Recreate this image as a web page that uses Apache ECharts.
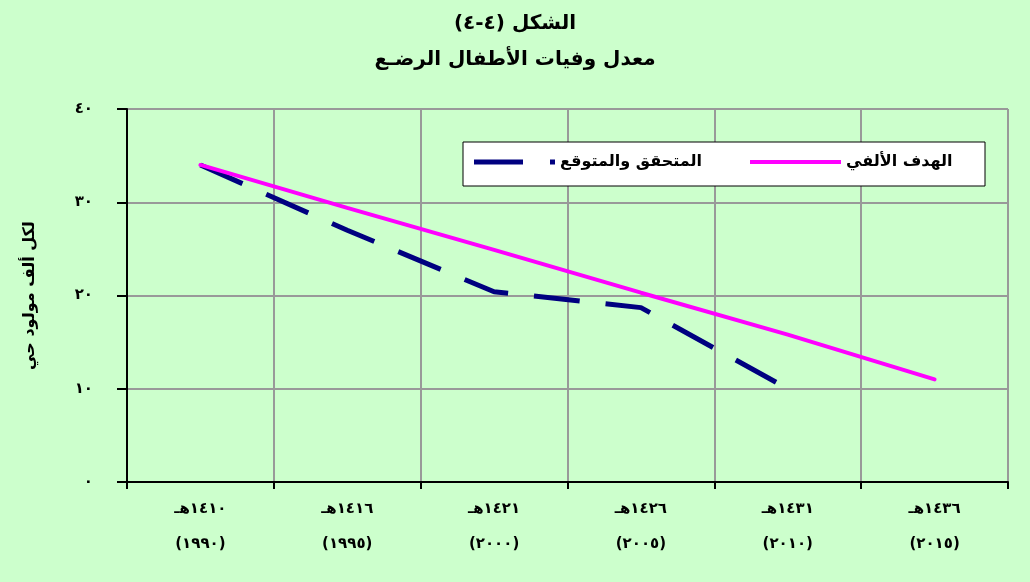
<!DOCTYPE html>
<html>
<head>
<meta charset="utf-8">
<script src="https://cdn.jsdelivr.net/npm/echarts@6/dist/echarts.min.js"></script>
<style>
  html, body { margin: 0; padding: 0; background: #CCFFCC; }
  #chart { width: 1030px; height: 582px; }
</style>
</head>
<body>
<div id="chart"></div>
<script>
// Years on the category axis (Hijri over Gregorian)
const hijriYears = ['١٤١٠هـ', '١٤١٦هـ', '١٤٢١هـ', '١٤٢٦هـ', '١٤٣١هـ', '١٤٣٦هـ'];
const gregorianYears = ['(١٩٩٠)', '(١٩٩٥)', '(٢٠٠٠)', '(٢٠٠٥)', '(٢٠١٠)', '(٢٠١٥)'];

// Infant mortality per 1000 live births
const achievedExpected = [34, 27, 20.4, 18.7, 10, null];
const mdgTarget = [34, 29.4, 24.9, 20.3, 15.8, 11];

const yTickLabels = ['٠', '١٠', '٢٠', '٣٠', '٤٠'];

const seriesNames = ['المتحقق والمتوقع', 'الهدف الألفي'];

const FONT = '"DejaVu Sans", sans-serif';
const categories = hijriYears.map((h, i) => h + '\n' + gregorianYears[i]);

const legendText = { fontFamily: FONT, fontSize: 16, fontWeight: 'bold', color: '#000' };

const chart = echarts.init(document.getElementById('chart'), null, { renderer: 'canvas' });

chart.setOption({
  backgroundColor: '#CCFFCC',
  animation: false,
  title: {
    text: 'الشكل (٤-٤)\u200F\nمعدل وفيات الأطفال الرضـع',
    left: 'center',
    top: 0,
    padding: [6, 0, 0, 20],
    textStyle: {
      fontFamily: FONT,
      fontSize: 20,
      fontWeight: 'bold',
      color: '#000',
      lineHeight: 36
    }
  },
  graphic: [{
    type: 'rect',
    z: 3,
    shape: { x: 463, y: 142, width: 522, height: 44 },
    style: { fill: '#ffffff', stroke: '#000000', lineWidth: 1 }
  }],
  legend: [
    {
      data: [{ name: seriesNames[0], icon: 'path://M0,0h49v5h-49z M76,0h5v5h-5z' }],
      left: 474,
      top: 154,
      padding: 0,
      itemWidth: 81,
      itemHeight: 5,
      z: 5,
      itemStyle: { borderWidth: 0 },
      textStyle: legendText
    },
    {
      data: [{ name: seriesNames[1], icon: 'path://M0,0h91v4h-91z' }],
      left: 750,
      top: 154,
      padding: 0,
      itemWidth: 91,
      itemHeight: 4,
      z: 5,
      itemStyle: { borderWidth: 0 },
      textStyle: legendText
    }
  ],
  grid: {
    left: 127,
    right: 22,
    top: 109,
    bottom: 100,
    containLabel: false
  },
  xAxis: {
    type: 'category',
    data: categories,
    boundaryGap: true,
    axisLine: { show: true, lineStyle: { color: '#000', width: 2 } },
    axisTick: { show: true, length: 7, lineStyle: { color: '#000', width: 2 } },
    splitLine: { show: true, lineStyle: { color: '#999999', width: 2 } },
    axisLabel: {
      interval: 0,
      margin: 10,
      fontFamily: FONT,
      fontSize: 15,
      fontWeight: 'bold',
      color: '#000',
      lineHeight: 35
    }
  },
  yAxis: {
    type: 'value',
    min: 0,
    max: 40,
    interval: 10,
    name: 'لكل ألف مولود حي',
    nameLocation: 'middle',
    nameGap: 89,
    nameRotate: 90,
    nameTextStyle: { fontFamily: FONT, fontSize: 16, fontWeight: 'bold', color: '#000' },
    axisLine: { show: true, lineStyle: { color: '#000', width: 2 } },
    axisTick: { show: true, length: 10, lineStyle: { color: '#000', width: 2 } },
    splitLine: { show: true, lineStyle: { color: '#999999', width: 2 } },
    axisLabel: {
      margin: 34,
      fontFamily: FONT,
      fontSize: 15,
      fontWeight: 'bold',
      color: '#000',
      formatter: v => yTickLabels[Math.round(v / 10)]
    }
  },
  series: [
    {
      name: seriesNames[0],
      type: 'line',
      data: achievedExpected,
      symbol: 'none',
      connectNulls: false,
      z: 2,
      itemStyle: { color: '#000080' },
      lineStyle: { color: '#000080', width: 5, type: [46, 26], cap: 'butt' }
    },
    {
      name: seriesNames[1],
      type: 'line',
      data: mdgTarget,
      symbol: 'none',
      z: 3,
      itemStyle: { color: '#FF00FF' },
      lineStyle: { color: '#FF00FF', width: 4, cap: 'round' }
    }
  ]
});
</script>
</body>
</html>
